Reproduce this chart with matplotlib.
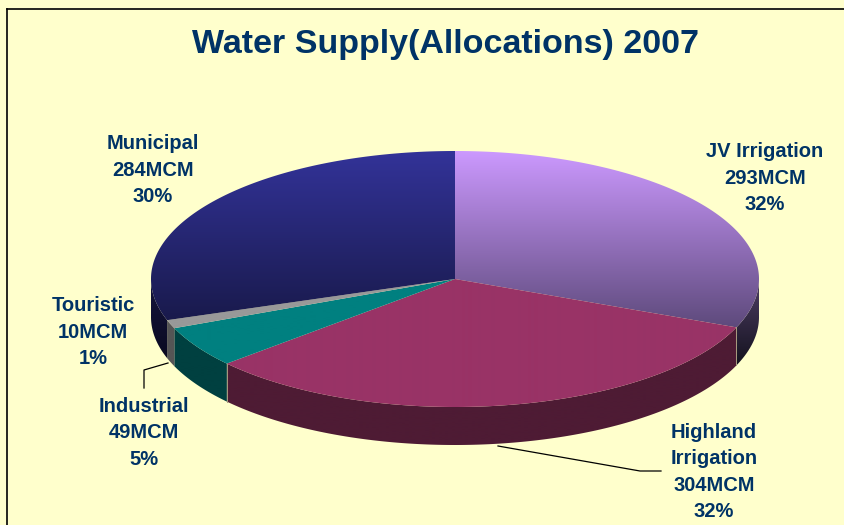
import numpy as np
import matplotlib
matplotlib.use("Agg")
import matplotlib.pyplot as plt
from matplotlib.patches import Polygon
from matplotlib.colors import LinearSegmentedColormap

categories = ["JV Irrigation", "Highland\nIrrigation", "Industrial", "Touristic", "Municipal"]
values_mcm = [293, 304, 49, 10, 284]
percents = [32, 32, 5, 1, 30]

top_top = ["#CC99FF", "#993366", "#008080", "#999999", "#333399"]
top_bottom = ["#5E4A7C", "#993366", "#008080", "#999999", "#191A4C"]
side_top = ["#4F3F66", "#4E1B34", "#004040", "#555555", "#15153F"]
side_bottom = ["#14121E", "#4E1B34", "#004040", "#555555", "#0A0A20"]

BG = "#FFFFCC"
TXT = "#003366"
CX, CY, RX, RY, DEPTH = 455, 279, 304, 128, 38
LABELS = [(765, 178), (714, 472), (144, 433), (93, 332), (153, 170)]

plt.rcParams["font.family"] = ["Liberation Sans", "DejaVu Sans"]
fig = plt.figure(figsize=(8.45, 5.25), dpi=100, facecolor=BG)
ax = fig.add_axes([0, 0, 1, 1])


def rim(t):
    return CX + RX * np.sin(t), CY - RY * np.cos(t)


def grad(verts, c1, c2, z):
    cmap = LinearSegmentedColormap.from_list("g", [c1, c2])
    y0, y1 = verts[:, 1].min(), verts[:, 1].max()
    im = ax.imshow(np.linspace(0, 1, 256).reshape(-1, 1), cmap=cmap, aspect="auto",
                   extent=(0, 845, y1, y0), zorder=z, interpolation="bilinear")
    poly = Polygon(verts, closed=True, fc="none", ec="none", transform=ax.transData)
    ax.add_patch(poly)
    im.set_clip_path(poly)


fractions = np.cumsum([0] + values_mcm) / np.sum(values_mcm)
angles = fractions * 2 * np.pi

for i in range(len(values_mcm)):
    a0, a1 = angles[i], angles[i + 1]
    lo, hi = max(a0, np.pi / 2), min(a1, 3 * np.pi / 2)
    if hi <= lo:
        continue
    t = np.linspace(lo, hi, 200)
    x, y = rim(t)
    verts = np.r_[np.c_[x, y], np.c_[x[::-1], y[::-1] + DEPTH]]
    grad(verts, side_top[i], side_bottom[i], 2)

for i in range(len(values_mcm)):
    t = np.linspace(angles[i], angles[i + 1], 300)
    x, y = rim(t)
    verts = np.r_[[[CX, CY]], np.c_[x, y]]
    grad(verts, top_top[i], top_bottom[i], 3)

for a in angles[1:3]:
    x, y = rim(a)
    ax.plot([x, x], [y, y + DEPTH], color="#A89C80", lw=0.7, zorder=4)

ax.plot([168, 144, 144], [363, 370, 388], color="black", lw=0.9, zorder=5)
ax.plot([498, 640, 661], [446, 471, 471], color="black", lw=0.9, zorder=5)

ax.plot([7.5, 7.5], [8.5, 525], color="black", lw=1.2, zorder=6)
ax.plot([7.5, 845], [8.5, 8.5], color="black", lw=1.2, zorder=6)

ax.text(446, 44, "Water Supply(Allocations) 2007", color=TXT, fontsize=24.5,
        fontweight="bold", ha="center", va="center", zorder=7)

for name, v, p, (lx, ly) in zip(categories, values_mcm, percents, LABELS):
    ax.text(lx, ly, f"{name}\n{v}MCM\n{p}%", color=TXT, fontsize=14.5, fontweight="bold",
            ha="center", va="center", linespacing=1.51, zorder=7)

ax.set_xlim(0, 845)
ax.set_ylim(525, 0)
ax.axis("off")
fig.savefig("out.png", dpi=100, facecolor=BG)
